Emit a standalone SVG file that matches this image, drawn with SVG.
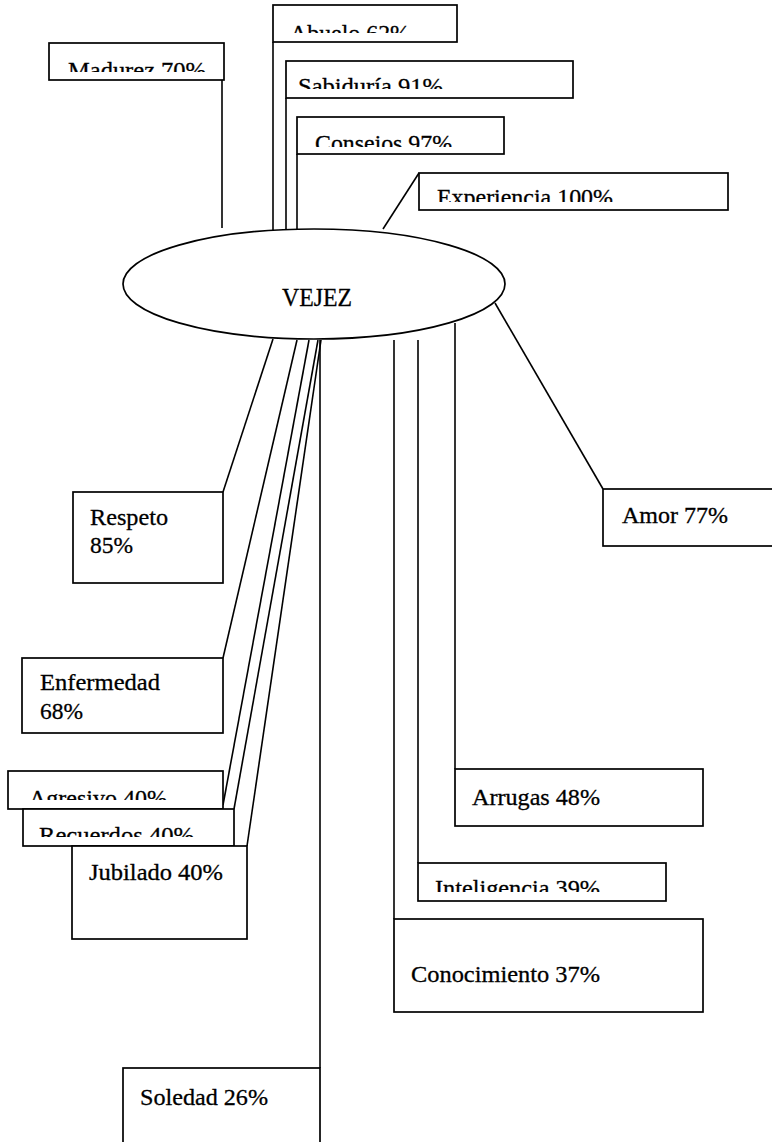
<svg xmlns="http://www.w3.org/2000/svg" width="772" height="1142" viewBox="0 0 772 1142">
<style>
.box{fill:#fff;stroke:#000;stroke-width:1.7}
.ln{fill:none;stroke:#000;stroke-width:1.6}
.lbl{font-family:"Liberation Serif","Times New Roman",serif;font-size:24px;fill:#000;stroke:#000;stroke-width:0.3}
</style>
<defs>
<clipPath id="cMad"><rect x="49" y="43" width="175" height="29"/></clipPath>
<clipPath id="cAbu"><rect x="273" y="5" width="184" height="28"/></clipPath>
<clipPath id="cSab"><rect x="286" y="61" width="287" height="28"/></clipPath>
<clipPath id="cCon"><rect x="297" y="117" width="207" height="30"/></clipPath>
<clipPath id="cExp"><rect x="419" y="173" width="309" height="29"/></clipPath>
<clipPath id="cAgr"><rect x="8" y="771" width="215" height="29"/></clipPath>
<clipPath id="cRec"><rect x="23" y="809" width="211" height="28"/></clipPath>
<clipPath id="cInt"><rect x="418" y="863" width="248" height="29"/></clipPath>
</defs>
<rect width="772" height="1142" fill="#fff"/>
<g id="connectors">
<line class="ln" x1="222" y1="80" x2="222" y2="228"/>
<line class="ln" x1="273" y1="42" x2="273" y2="230"/>
<line class="ln" x1="286" y1="98" x2="286" y2="229"/>
<line class="ln" x1="297" y1="154" x2="297" y2="229"/>
<line class="ln" x1="419" y1="173" x2="383" y2="229"/>
<line class="ln" x1="495" y1="303" x2="603" y2="489"/>
<line class="ln" x1="273" y1="339" x2="223" y2="492"/>
<line class="ln" x1="297" y1="340" x2="223" y2="658"/>
<line class="ln" x1="309" y1="340" x2="223" y2="805"/>
<line class="ln" x1="318" y1="340" x2="234" y2="809"/>
<line class="ln" x1="321" y1="340" x2="247" y2="846"/>
<line class="ln" x1="320" y1="340" x2="320" y2="1068"/>
<line class="ln" x1="394" y1="340" x2="394" y2="919"/>
<line class="ln" x1="418" y1="340" x2="418" y2="863"/>
<line class="ln" x1="455" y1="323" x2="455" y2="769"/>
</g>
<g id="vejez">
<ellipse class="box" cx="314" cy="284" rx="191" ry="55"/>
<text class="lbl" x="282" y="306" textLength="70" lengthAdjust="spacingAndGlyphs" style="font-size:26px">VEJEZ</text>
</g>
<g id="madurez">
<rect class="box" x="49" y="43" width="175" height="37"/>
<text class="lbl" x="68" y="78" textLength="138" lengthAdjust="spacingAndGlyphs" clip-path="url(#cMad)">Madurez 70%</text>
</g>
<g id="abuelo">
<rect class="box" x="273" y="5" width="184" height="37"/>
<text class="lbl" x="290" y="41" textLength="120" lengthAdjust="spacingAndGlyphs" clip-path="url(#cAbu)">Abuelo 62%</text>
</g>
<g id="sabiduria">
<rect class="box" x="286" y="61" width="287" height="37"/>
<text class="lbl" x="298" y="94" textLength="145" lengthAdjust="spacingAndGlyphs" clip-path="url(#cSab)">Sabiduría 91%</text>
</g>
<g id="consejos">
<rect class="box" x="297" y="117" width="207" height="37"/>
<text class="lbl" x="315" y="151" textLength="137" lengthAdjust="spacingAndGlyphs" clip-path="url(#cCon)">Consejos 97%</text>
</g>
<g id="experiencia">
<rect class="box" x="419" y="173" width="309" height="37"/>
<text class="lbl" x="437" y="205" textLength="176" lengthAdjust="spacingAndGlyphs" clip-path="url(#cExp)">Experiencia 100%</text>
</g>
<g id="amor">
<rect class="box" x="603" y="489" width="200" height="57"/>
<text class="lbl" x="622" y="523" textLength="106" lengthAdjust="spacingAndGlyphs">Amor 77%</text>
</g>
<g id="respeto">
<rect class="box" x="73" y="492" width="150" height="91"/>
<text class="lbl" x="90" y="525" textLength="78" lengthAdjust="spacingAndGlyphs">Respeto</text>
<text class="lbl" x="90" y="553" textLength="43" lengthAdjust="spacingAndGlyphs">85%</text>
</g>
<g id="enfermedad">
<rect class="box" x="22" y="658" width="201" height="75"/>
<text class="lbl" x="40" y="690" textLength="120" lengthAdjust="spacingAndGlyphs">Enfermedad</text>
<text class="lbl" x="40" y="719" textLength="43" lengthAdjust="spacingAndGlyphs">68%</text>
</g>
<g id="agresivo">
<rect class="box" x="8" y="771" width="215" height="38"/>
<text class="lbl" x="29" y="806" textLength="138" lengthAdjust="spacingAndGlyphs" clip-path="url(#cAgr)">Agresivo 40%</text>
</g>
<g id="recuerdos">
<rect class="box" x="23" y="809" width="211" height="37"/>
<text class="lbl" x="39" y="843" textLength="155" lengthAdjust="spacingAndGlyphs" clip-path="url(#cRec)">Recuerdos 40%</text>
</g>
<g id="jubilado">
<rect class="box" x="72" y="846" width="175" height="93"/>
<text class="lbl" x="89" y="880" textLength="134" lengthAdjust="spacingAndGlyphs">Jubilado 40%</text>
</g>
<g id="soledad">
<rect class="box" x="123" y="1068" width="197" height="90"/>
<text class="lbl" x="140" y="1105" textLength="128" lengthAdjust="spacingAndGlyphs">Soledad 26%</text>
</g>
<g id="arrugas">
<rect class="box" x="455" y="769" width="248" height="57"/>
<text class="lbl" x="472" y="805" textLength="128" lengthAdjust="spacingAndGlyphs">Arrugas 48%</text>
</g>
<g id="inteligencia">
<rect class="box" x="418" y="863" width="248" height="38"/>
<text class="lbl" x="435" y="896" textLength="165" lengthAdjust="spacingAndGlyphs" clip-path="url(#cInt)">Inteligencia 39%</text>
</g>
<g id="conocimiento">
<rect class="box" x="394" y="919" width="309" height="93"/>
<text class="lbl" x="411" y="982" textLength="189" lengthAdjust="spacingAndGlyphs">Conocimiento 37%</text>
</g>
</svg>
